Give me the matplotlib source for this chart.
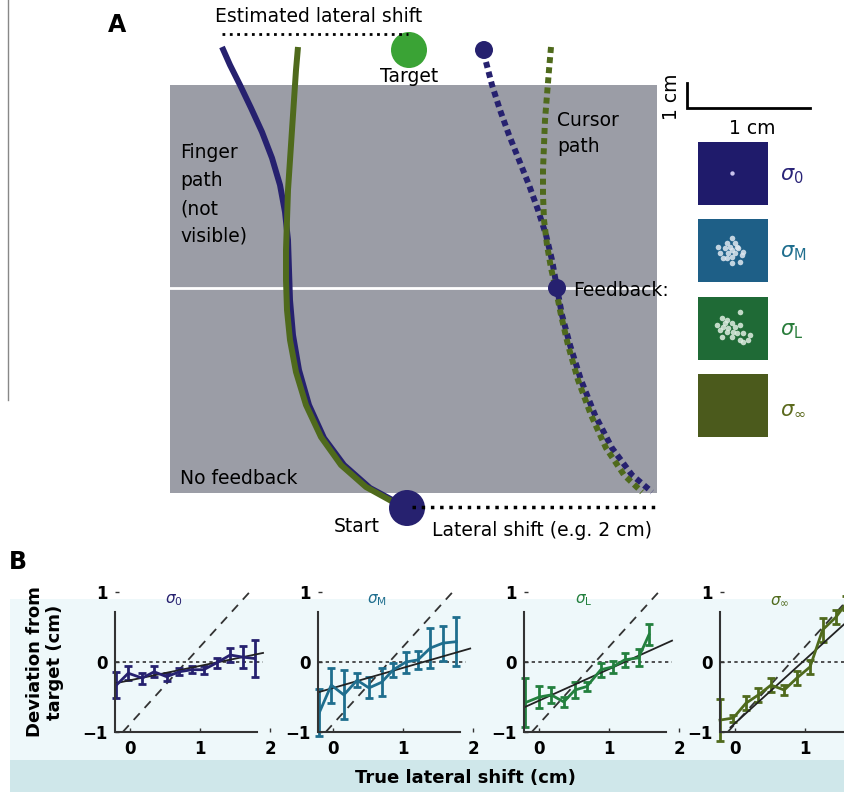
import matplotlib
matplotlib.use("Agg")
import matplotlib.pyplot as plt
from matplotlib.patches import Rectangle, Circle

plt.rcParams['font.family'] = ['DejaVu Sans']
plt.rcParams['mathtext.fontset'] = 'dejavusans'

# ---------------- colours ----------------
C_NAVY = '#26216f'
C_TEAL = '#1f6e8e'
C_GREEN = '#23803e'
C_OLIVE = '#4f6a1c'
SQ_COLORS = ['#1f1b6b', '#1e5f87', '#1f6a36', '#4b5a1c']
LBL_COLORS = ['#2a2478', '#1f6e8e', '#2a7d3c', '#5c6a1e']

# ---------------- panel A illustration (pixel coords) ----------------
finger_navy_x = [222, 230, 240, 251, 262, 272, 280, 285, 288, 289, 290, 293, 299, 309, 324, 344, 370, 398]
finger_navy_y = [47, 65, 85, 108, 132, 158, 185, 212, 240, 270, 300, 335, 370, 405, 438, 465, 488, 503]
finger_olive_x = [298, 296, 294, 292, 290, 288, 287, 286, 286, 287, 290, 296, 306, 321, 341, 366, 395]
finger_olive_y = [47, 70, 100, 130, 160, 190, 220, 250, 280, 310, 340, 372, 405, 437, 465, 487, 503]
cursor_navy_x = [486, 492, 500, 509, 519, 529, 538, 546, 552, 557, 562, 570, 581, 595, 612, 632, 652]
cursor_navy_y = [62, 85, 110, 135, 160, 185, 210, 235, 260, 288, 315, 345, 380, 415, 448, 475, 492]
cursor_olive_x = [551, 549, 547, 545, 544, 543, 543, 544, 547, 551, 556, 561, 568, 578, 591, 606, 624, 642]
cursor_olive_y = [47, 70, 95, 120, 145, 170, 195, 220, 245, 268, 290, 315, 345, 380, 415, 448, 475, 492]

cloud_M_x = [732, 727, 735, 718, 725, 732, 738, 743, 720, 728, 735, 742, 732, 727, 740, 732, 723, 737, 730]
cloud_M_y = [238, 243, 243, 247, 248, 250, 248, 252, 253, 253, 253, 255, 257, 258, 262, 263, 258, 247, 247]
cloud_L_x = [740, 722, 727, 732, 717, 723, 728, 735, 740, 720, 727, 733, 743, 750, 722, 732, 740, 743, 748, 737, 725]
cloud_L_y = [312, 318, 320, 323, 325, 327, 328, 327, 325, 330, 332, 332, 333, 335, 337, 337, 340, 342, 340, 333, 323]

# ---------------- panel B data ----------------
titles = [r'$\sigma_0$', r'$\sigma_\mathrm{M}$', r'$\sigma_\mathrm{L}$', r'$\sigma_\infty$']
line_colors = [C_NAVY, C_TEAL, C_GREEN, C_OLIVE]
x_tick_vals = [[0, 1, 2], [0, 1, 2], [0, 1, 2], [0, 1]]

x_s0 = [-0.20, -0.03, 0.17, 0.34, 0.52, 0.70, 0.88, 1.05, 1.24, 1.43, 1.61, 1.78]
y_s0 = [-0.33, -0.16, -0.23, -0.14, -0.21, -0.14, -0.11, -0.11, -0.01, 0.10, 0.07, 0.05]
e_s0 = [0.19, 0.10, 0.08, 0.08, 0.06, 0.05, 0.05, 0.06, 0.07, 0.10, 0.16, 0.27]

x_sM = [-0.20, -0.03, 0.15, 0.34, 0.51, 0.69, 0.86, 1.04, 1.21, 1.39, 1.57, 1.76]
y_sM = [-0.72, -0.33, -0.47, -0.26, -0.37, -0.29, -0.11, 0.00, 0.03, 0.20, 0.27, 0.29]
e_sM = [0.33, 0.25, 0.35, 0.10, 0.15, 0.20, 0.10, 0.15, 0.13, 0.28, 0.25, 0.35]

x_sL = [-0.20, 0.00, 0.17, 0.35, 0.51, 0.68, 0.88, 1.05, 1.22, 1.42, 1.57]
y_sL = [-0.58, -0.50, -0.47, -0.57, -0.40, -0.35, -0.11, -0.07, 0.03, 0.06, 0.39]
e_sL = [0.35, 0.16, 0.12, 0.07, 0.12, 0.07, 0.10, 0.08, 0.10, 0.12, 0.15]

x_sI = [-0.22, -0.03, 0.15, 0.33, 0.51, 0.70, 0.88, 1.07, 1.25, 1.44, 1.59]
y_sI = [-0.83, -0.80, -0.59, -0.47, -0.33, -0.40, -0.23, -0.07, 0.46, 0.64, 0.84]
e_sI = [0.30, 0.05, 0.10, 0.10, 0.10, 0.07, 0.10, 0.10, 0.17, 0.10, 0.10]

xs = [x_s0, x_sM, x_sL, x_sI]
ys = [y_s0, y_sM, y_sL, y_sI]
es = [e_s0, e_sM, e_sL, e_sI]

fit_slope = [0.205, 0.287, 0.45, 0.905]
fit_icpt = [-0.26, -0.37, -0.55, -0.87]
fit_x0 = [-0.20, -0.20, -0.20, -0.07]
fit_x1 = [1.90, 1.96, 1.90, 1.75]

full_slope = 1.1
full_zero = 0.8

W, H = 845, 792
fig = plt.figure(figsize=(W / 100, H / 100), dpi=100)

# ---------------- background / panel A axes in pixel space ----------------
axA = fig.add_axes([0, 0, 1, 1])
axA.set_xlim(0, W)
axA.set_ylim(H, 0)
axA.axis('off')

# panel B bands
axA.add_patch(Rectangle((10, 599), W - 10, 161, facecolor='#eef8fa', edgecolor='none', zorder=0))
axA.add_patch(Rectangle((10, 760), W - 10, 32, facecolor='#cfe7ea', edgecolor='none', zorder=0))
axA.plot([8, 8], [0, 400], color='#888888', lw=1)

# grey workspace
axA.add_patch(Rectangle((170, 85), 487, 408, facecolor='#9b9da6', edgecolor='none', zorder=1))
axA.plot([170, 657], [288, 288], color='white', lw=2, zorder=2)

# finger paths
axA.plot(finger_navy_x, finger_navy_y, color=C_NAVY, lw=4.3, solid_capstyle='butt', zorder=3)
axA.plot(finger_olive_x, finger_olive_y, color=C_OLIVE, lw=4.3, solid_capstyle='butt', zorder=4)
# cursor paths
axA.plot(cursor_navy_x, cursor_navy_y, color=C_NAVY, lw=4.3, ls=(0, (1.0, 0.7)), zorder=3)
axA.plot(cursor_olive_x, cursor_olive_y, color=C_OLIVE, lw=4.3, ls=(0, (1.0, 0.7)), zorder=4)

# circles
axA.add_patch(Circle((409, 50), 18, facecolor='#3aa335', edgecolor='none', zorder=5))
axA.add_patch(Circle((484, 50), 9, facecolor=C_NAVY, edgecolor='none', zorder=5))
axA.add_patch(Circle((557, 288), 9, facecolor=C_NAVY, edgecolor='none', zorder=5))
axA.add_patch(Circle((407, 508), 18, facecolor=C_NAVY, edgecolor='none', zorder=5))

# dotted lines
axA.plot([222, 408], [34, 34], color='black', lw=2, ls=':', zorder=5)
axA.plot([412, 655], [507, 507], color='black', lw=2.5, ls=':', zorder=6)

fsA = 13.5
axA.text(117, 25, 'A', fontsize=17, fontweight='bold', ha='center', va='center')
axA.text(319, 17, 'Estimated lateral shift', fontsize=fsA, ha='center', va='center')
axA.text(409, 76, 'Target', fontsize=fsA, ha='center', va='center', zorder=6)
for txt, yy in zip(['Finger', 'path', '(not', 'visible)'], [152, 181, 209, 236]):
    axA.text(180, yy, txt, fontsize=fsA, ha='left', va='center', zorder=6)
axA.text(557, 120, 'Cursor', fontsize=fsA, ha='left', va='center', zorder=6)
axA.text(557, 147, 'path', fontsize=fsA, ha='left', va='center', zorder=6)
axA.text(573, 290, 'Feedback:', fontsize=fsA, ha='left', va='center', zorder=6)
axA.text(180, 478, 'No feedback', fontsize=fsA, ha='left', va='center', zorder=6)
axA.text(357, 526, 'Start', fontsize=fsA, ha='center', va='center')
axA.text(432, 531, 'Lateral shift (e.g. 2 cm)', fontsize=fsA, ha='left', va='center')

# scale bar
axA.plot([687, 687, 810], [83, 108, 108], color='black', lw=2, solid_joinstyle='miter')
axA.text(672, 97, '1 cm', fontsize=fsA, rotation=90, ha='center', va='center')
axA.text(752, 128, '1 cm', fontsize=fsA, ha='center', va='center')

# feedback legend squares
sq_tops = [142, 219, 297, 374]
sq_labels = [r'$\sigma_0$', r'$\sigma_\mathrm{M}$', r'$\sigma_\mathrm{L}$', r'$\sigma_\infty$']
for top, col, lcol, lab in zip(sq_tops, SQ_COLORS, LBL_COLORS, sq_labels):
    axA.add_patch(Rectangle((698, top), 70, 63, facecolor=col, edgecolor='none', zorder=2))
    axA.text(780, top + 34, lab, fontsize=15, color=lcol, ha='left', va='center')
axA.scatter([732], [173], s=10, color='#c9c3ee', zorder=3, linewidths=0)
axA.scatter(cloud_M_x, cloud_M_y, s=16, color='#dfe8f0', alpha=0.85, zorder=3, linewidths=0)
axA.scatter(cloud_L_x, cloud_L_y, s=16, color='#dfeee2', alpha=0.85, zorder=3, linewidths=0)

axA.text(18, 562, 'B', fontsize=17, fontweight='bold', ha='center', va='center')

# ---------------- panel B axes ----------------
lefts = [115, 318, 524, 720]
ax_w, ax_top, ax_bot = 155, 592, 732
xlim = (-0.22, 2.0)
for i in range(4):
    ax = fig.add_axes([lefts[i] / W, (H - ax_bot) / H, ax_w / W, (ax_bot - ax_top) / H])
    ax.patch.set_alpha(0)
    ax.set_xlim(*xlim)
    ax.set_ylim(-1, 1)
    for s in ['top', 'right']:
        ax.spines[s].set_visible(False)
    ax.spines['left'].set_bounds(-1, 0.72)
    ax.spines['bottom'].set_bounds(-0.2, 1.82)
    for s in ['left', 'bottom']:
        ax.spines[s].set_linewidth(1.5)
        ax.spines[s].set_color('#333333')
    ax.set_xticks(x_tick_vals[i])
    ax.set_yticks([-1, 0, 1])
    ax.set_yticklabels(['\u22121', '0', '1'])
    ax.tick_params(direction='in', length=3, width=1, labelsize=12, pad=6, color='#333333')
    ax.tick_params(axis='y', pad=5)
    for lab in ax.get_xticklabels() + ax.get_yticklabels():
        lab.set_fontweight('bold')

    ax.plot([-0.2, 1.9], [0, 0], color='#333333', lw=1.2, ls=(0, (2, 2)))
    dx0 = full_zero - 1 / full_slope
    dx1 = full_zero + 1 / full_slope
    ax.plot([dx0, dx1], [-1, 1], color='#333333', lw=1.3, ls=(0, (5, 4)), clip_on=False)
    ax.errorbar(xs[i], ys[i], yerr=es[i], color=line_colors[i], lw=2, elinewidth=2,
                capsize=3, capthick=2, clip_on=False)
    fx = [fit_x0[i], fit_x1[i]]
    ax.plot(fx, [fit_icpt[i] + fit_slope[i] * v for v in fx], color='#222222', lw=1.3, clip_on=False)
    ax.text(0.63, 0.88, titles[i], color=line_colors[i], fontsize=11, ha='center', va='center')

fig.text(45 / W, 1 - 662 / H, 'Deviation from\ntarget (cm)', rotation=90, fontsize=13,
         fontweight='bold', ha='center', va='center', linespacing=1.1)
fig.text(465 / W, 1 - 778 / H, 'True lateral shift (cm)', fontsize=13, fontweight='bold',
         ha='center', va='center')

fig.savefig('out.png', dpi=100)
